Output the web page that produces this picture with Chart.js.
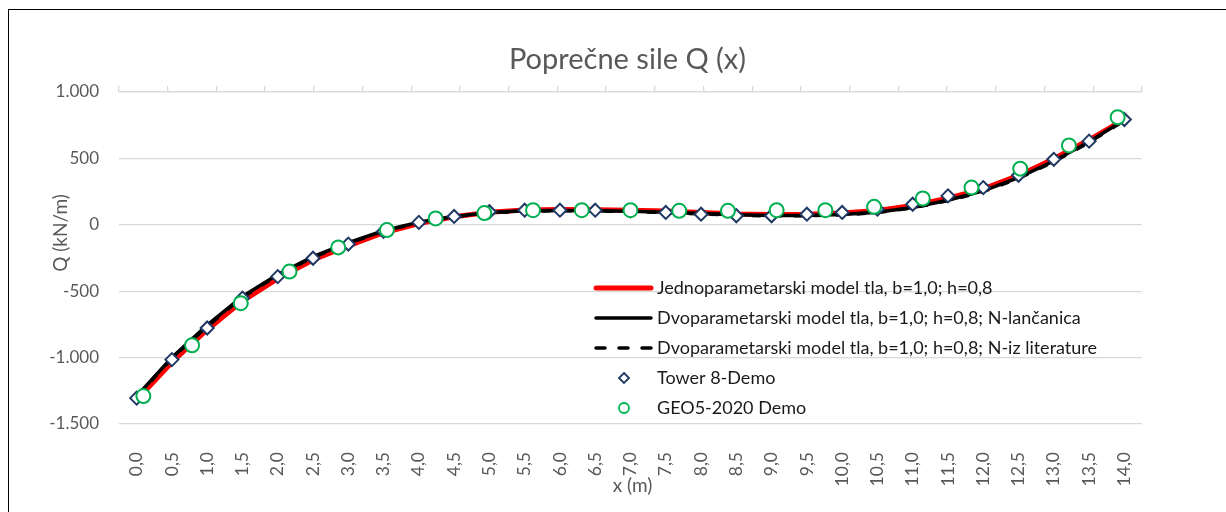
<!DOCTYPE html>
<html>
<head>
<meta charset="utf-8">
<script src="https://cdn.jsdelivr.net/npm/chart.js@4.4.1/dist/chart.umd.min.js"></script>
<style>
  html, body { margin: 0; padding: 0; background: #fff; overflow: hidden; }
  #wrap { position: relative; width: 1226px; height: 512px; }
  #frame { position: absolute; left: 8px; top: 9px; width: 1300px; height: 600px;
           border: 1.5px solid #000; pointer-events: none; }
</style>
</head>
<body>
<div id="wrap">
  <canvas id="chart" width="1226" height="512"></canvas>
  <div id="frame"></div>
</div>
<script>
// x (m) – glavna os, korak 0,5 m
const xLabels = ['0,0','0,5','1,0','1,5','2,0','2,5','3,0','3,5','4,0','4,5','5,0','5,5','6,0','6,5','7,0',
                 '7,5','8,0','8,5','9,0','9,5','10,0','10,5','11,0','11,5','12,0','12,5','13,0','13,5','14,0'];
// x (m) – točke GEO5 proračuna, korak 0,7 m (sekundarna os)
const geoLabels = ['0,0','0,7','1,4','2,1','2,8','3,5','4,2','4,9','5,6','6,3','7,0',
                   '7,7','8,4','9,1','9,8','10,5','11,2','11,9','12,6','13,3','14,0'];

// Q (kN/m)
const qJedno = [-1320,-1035,-790,-575,-405,-265,-158,-60,10,60,95,112,115,113,110,
                103,92,82,78,80,88,108,145,200,270,372,497,640,795];
const qDvoLancanica = [-1290,-1000,-755,-540,-375,-240,-135,-45,20,62,92,105,108,106,102,
                       95,85,75,70,70,78,95,130,185,255,355,480,625,790];
const qDvoLiteratura = [-1295,-1005,-765,-545,-380,-245,-140,-48,18,60,90,103,106,104,100,
                        92,82,72,67,68,75,92,127,182,250,350,475,620,785];
const qTower = [-1305,-1015,-777,-552,-390,-252,-145,-50,18,63,98,110,110,110,105,
                93,80,68,68,80,93,118,155,218,280,373,493,630,793];
const qGeo5 = [-1290,-907,-590,-352,-170,-40,48,88,110,110,110,
               105,105,110,110,135,198,280,423,598,810];

const seriesNames = [
  'Jednoparametarski model tla, b=1,0; h=0,8',
  'Dvoparametarski model tla, b=1,0; h=0,8; N-lančanica',
  'Dvoparametarski model tla, b=1,0; h=0,8; N-iz literature',
  'Tower 8-Demo',
  'GEO5-2020 Demo'
];

const FONT = 'Lato, "Noto Sans", sans-serif';

function fmtThousands(v) {
  const s = Math.abs(v).toString().replace(/\B(?=(\d{3})+(?!\d))/g, '.');
  return (v < 0 ? '-' : '') + s;
}

// naslovi i legenda unutar područja grafa
const textPlugin = {
  id: 'texts',
  afterDraw(chart) {
    const { ctx, chartArea: a } = chart;
    ctx.save();
    ctx.fillStyle = '#595959';
    ctx.textAlign = 'center';
    ctx.textBaseline = 'alphabetic';
    ctx.font = '29px ' + FONT;
    ctx.fillText('Poprečne sile Q (x)', (a.left + a.right) / 2 - 3, 69);

    ctx.font = '19px ' + FONT;
    ctx.fillText('x (m)', (a.left + a.right) / 2 + 2, 492);

    ctx.save();
    ctx.translate(67, 233);
    ctx.rotate(-Math.PI / 2);
    ctx.fillText('Q (kN/m)', 0, 0);
    ctx.restore();

    // legenda
    const lx = a.right - 548, ly = a.top + 196, step = 30;
    ctx.font = '18px ' + FONT;
    ctx.textAlign = 'left';
    chart.data.datasets.forEach((ds, i) => {
      const y = ly + i * step;
      ctx.fillStyle = '#1a1a1a';
      ctx.fillText(ds.label, lx + 63, y + 6);
      if (ds.showLine !== false) {
        ctx.strokeStyle = ds.borderColor;
        ctx.lineWidth = ds.borderWidth;
        ctx.lineCap = 'round';
        ctx.setLineDash(ds.borderDash ? [9, 14] : []);
        ctx.beginPath();
        ctx.moveTo(lx + 2, y);
        ctx.lineTo(lx + 57, y);
        ctx.stroke();
        ctx.setLineDash([]);
      } else {
        ctx.strokeStyle = ds.pointBorderColor;
        ctx.fillStyle = '#fff';
        ctx.lineWidth = 1.8;
        const cx = lx + 30;
        ctx.beginPath();
        if (ds.pointStyle === 'rectRot') {
          ctx.moveTo(cx, y - 5); ctx.lineTo(cx + 5, y); ctx.lineTo(cx, y + 5); ctx.lineTo(cx - 5, y);
          ctx.closePath();
        } else {
          ctx.arc(cx, y, 5, 0, Math.PI * 2);
        }
        ctx.fill();
        ctx.stroke();
      }
    });
    ctx.restore();
  }
};

new Chart(document.getElementById('chart'), {
  type: 'line',
  data: {
    labels: xLabels,
    datasets: [
      { label: seriesNames[0], data: qJedno, borderColor: '#ff0000', borderWidth: 5,
        pointRadius: 0, order: 5, xAxisID: 'x' },
      { label: seriesNames[1], data: qDvoLancanica, borderColor: '#000000', borderWidth: 3.5,
        pointRadius: 0, order: 3, xAxisID: 'x' },
      { label: seriesNames[2], data: qDvoLiteratura, borderColor: '#000000', borderWidth: 3.5,
        borderDash: [9, 12], pointRadius: 0, order: 4, xAxisID: 'x' },
      { label: seriesNames[3], data: qTower, showLine: false, pointStyle: 'rectRot',
        pointRadius: 6.5, pointBorderWidth: 2, pointBorderColor: '#1f3864',
        pointBackgroundColor: '#ffffff', order: 1, xAxisID: 'x' },
      { label: seriesNames[4], data: qGeo5, showLine: false, pointStyle: 'circle',
        pointRadius: 7, pointBorderWidth: 2, pointBorderColor: '#00b050',
        pointBackgroundColor: '#ffffff', order: 0, xAxisID: 'x2' }
    ]
  },
  options: {
    responsive: false,
    animation: false,
    layout: { padding: { left: 0, right: 84, top: 0, bottom: 0 } },
    plugins: { legend: { display: false }, tooltip: { enabled: false } },
    scales: {
      x: {
        type: 'category', labels: xLabels, offset: true, position: 'bottom',
        grid: { display: false }, border: { display: false },
        ticks: { autoSkip: false, maxRotation: 90, minRotation: 90, padding: 20,
                 color: '#595959', font: { family: FONT, size: 17.5 } },
        afterFit: s => { s.height = 88; }
      },
      x2: {
        type: 'category', labels: geoLabels, offset: true, position: 'top',
        grid: { offset: true, drawOnChartArea: false, tickLength: 6, color: '#d9d9d9', lineWidth: 1.3 },
        border: { color: '#d9d9d9', width: 1.3 },
        ticks: { display: false },
        afterFit: s => { s.height = 92; }
      },
      y: {
        min: -1500, max: 1000,
        ticks: { stepSize: 500, padding: 20, color: '#595959', font: { family: FONT, size: 17 },
                 callback: v => fmtThousands(v) },
        grid: { color: '#d9d9d9', lineWidth: 1.3, drawTicks: false },
        border: { display: false },
        afterFit: s => { s.width = 119; }
      }
    }
  },
  plugins: [textPlugin]
});
</script>
</body>
</html>
